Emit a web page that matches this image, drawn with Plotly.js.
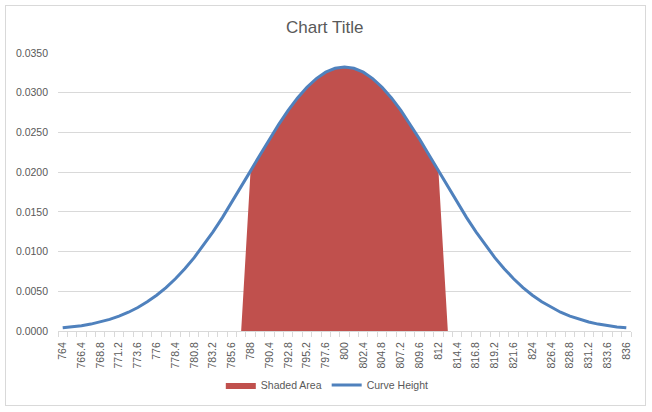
<!DOCTYPE html>
<html>
<head>
<meta charset="utf-8">
<script src="https://cdn.plot.ly/plotly-3.0.1.min.js"></script>
<style>
  body { margin: 0; background: #fff; }
  #chart { position: absolute; left: 0; top: 0; width: 652px; height: 412px; }
  #frame { position: absolute; left: 5px; top: 5px; width: 639px; height: 399px;
           border: 1px solid #d9d9d9; pointer-events: none; }
</style>
</head>
<body>
<div id="chart"></div>
<div id="frame"></div>
<script>
// 横轴数值 (每 1.2 一个类别)
const xValues = [
  764, 765.2, 766.4, 767.6, 768.8, 770, 771.2, 772.4, 773.6, 774.8,
  776, 777.2, 778.4, 779.6, 780.8, 782, 783.2, 784.4, 785.6, 786.8,
  788, 789.2, 790.4, 791.6, 792.8, 794, 795.2, 796.4, 797.6, 798.8,
  800, 801.2, 802.4, 803.6, 804.8, 806, 807.2, 808.4, 809.6, 810.8,
  812, 813.2, 814.4, 815.6, 816.8, 818, 819.2, 820.4, 821.6, 822.8,
  824, 825.2, 826.4, 827.6, 828.8, 830, 831.2, 832.4, 833.6, 834.8,
  836
];

// 曲线高度
const curveHeight = [
  0.00040, 0.00050, 0.00066, 0.00087, 0.00113, 0.00146, 0.00187, 0.00236, 0.00296, 0.00367,
  0.00450, 0.00547, 0.00658, 0.00784, 0.00924, 0.01079, 0.01248, 0.01428, 0.01618, 0.01815,
  0.02016, 0.02217, 0.02414, 0.02602, 0.02777, 0.02934, 0.03069, 0.03178, 0.03259, 0.03308,
  0.03325, 0.03308, 0.03259, 0.03178, 0.03069, 0.02934, 0.02777, 0.02602, 0.02414, 0.02217,
  0.02016, 0.01815, 0.01618, 0.01428, 0.01248, 0.01079, 0.00924, 0.00784, 0.00658, 0.00547,
  0.00450, 0.00367, 0.00296, 0.00236, 0.00187, 0.00146, 0.00113, 0.00087, 0.00066, 0.00050,
  0.00040
];

// 阴影区域 (788 ~ 812)
const shadedArea = [
  0, 0, 0, 0, 0, 0, 0, 0, 0, 0,
  0, 0, 0, 0, 0, 0, 0, 0, 0, 0,
  0.02016, 0.02217, 0.02414, 0.02602, 0.02777, 0.02934, 0.03069, 0.03178, 0.03259, 0.03308,
  0.03325, 0.03308, 0.03259, 0.03178, 0.03069, 0.02934, 0.02777, 0.02602, 0.02414, 0.02217,
  0.02016, 0, 0, 0, 0, 0, 0, 0, 0, 0,
  0, 0, 0, 0, 0, 0, 0, 0, 0, 0,
  0
];

// 刻度标签 (隔一个类别显示)
const tickLabels = [
  '764', '766.4', '768.8', '771.2', '773.6', '776', '778.4', '780.8', '783.2', '785.6',
  '788', '790.4', '792.8', '795.2', '797.6', '800', '802.4', '804.8', '807.2', '809.6',
  '812', '814.4', '816.8', '819.2', '821.6', '824', '826.4', '828.8', '831.2', '833.6',
  '836'
];
const tickVals = xValues.filter((v, i) => i % 2 === 0);

const textColor = '#595959';
const gridColor = '#d9d9d9';
const baseFont = { family: '"Liberation Sans", Arial, sans-serif', size: 10.5, color: textColor };

const traces = [
  {
    type: 'scatter',
    mode: 'lines',
    name: 'Shaded Area',
    x: xValues,
    y: shadedArea,
    fill: 'tozeroy',
    fillcolor: '#c0504d',
    line: { width: 0, color: '#c0504d' },
    hoverinfo: 'skip'
  },
  {
    type: 'scatter',
    mode: 'lines',
    name: 'Curve Height',
    x: xValues,
    y: curveHeight,
    line: { width: 3, color: '#4f81bd' },
    hoverinfo: 'skip'
  }
];

const layout = {
  width: 652,
  height: 412,
  margin: { l: 58, r: 21, t: 53, b: 81 },
  paper_bgcolor: '#ffffff',
  plot_bgcolor: '#ffffff',
  font: baseFont,
  title: {
    text: 'Chart Title',
    font: { family: '"Liberation Sans", Arial, sans-serif', size: 17, color: textColor },
    x: 0.498,
    xref: 'container',
    xanchor: 'center',
    y: 0.934,
    yref: 'container',
    yanchor: 'middle'
  },
  xaxis: {
    type: 'linear',
    range: [763.4, 836.6],
    tickmode: 'array',
    tickvals: tickVals,
    ticktext: tickLabels,
    tickangle: -90,
    ticks: '',
    ticklabelstandoff: 6,
    showgrid: false,
    zeroline: false,
    showline: true,
    linecolor: gridColor,
    linewidth: 1,
    tickfont: baseFont,
    minor: {
      tickmode: 'linear',
      tick0: 763.4,
      dtick: 1.2,
      ticks: 'outside',
      ticklen: 5,
      tickwidth: 1,
      tickcolor: gridColor,
      showgrid: false
    },
    fixedrange: true
  },
  yaxis: {
    range: [0, 0.035],
    tickmode: 'linear',
    tick0: 0,
    dtick: 0.005,
    tickformat: '.4f',
    ticks: '',
    ticklabelstandoff: 9,
    showgrid: true,
    gridcolor: gridColor,
    gridwidth: 1,
    zeroline: false,
    showline: false,
    tickfont: baseFont,
    fixedrange: true
  },
  showlegend: true,
  legend: {
    orientation: 'h',
    xref: 'container',
    x: 0.502,
    xanchor: 'center',
    yref: 'container',
    y: 1 - 385 / 412,
    yanchor: 'middle',
    font: baseFont,
    bgcolor: 'rgba(0,0,0,0)',
    itemwidth: 30,
    traceorder: 'normal'
  },
  hovermode: false
};

Plotly.newPlot('chart', traces, layout, { displayModeBar: false, staticPlot: true });
</script>
</body>
</html>
